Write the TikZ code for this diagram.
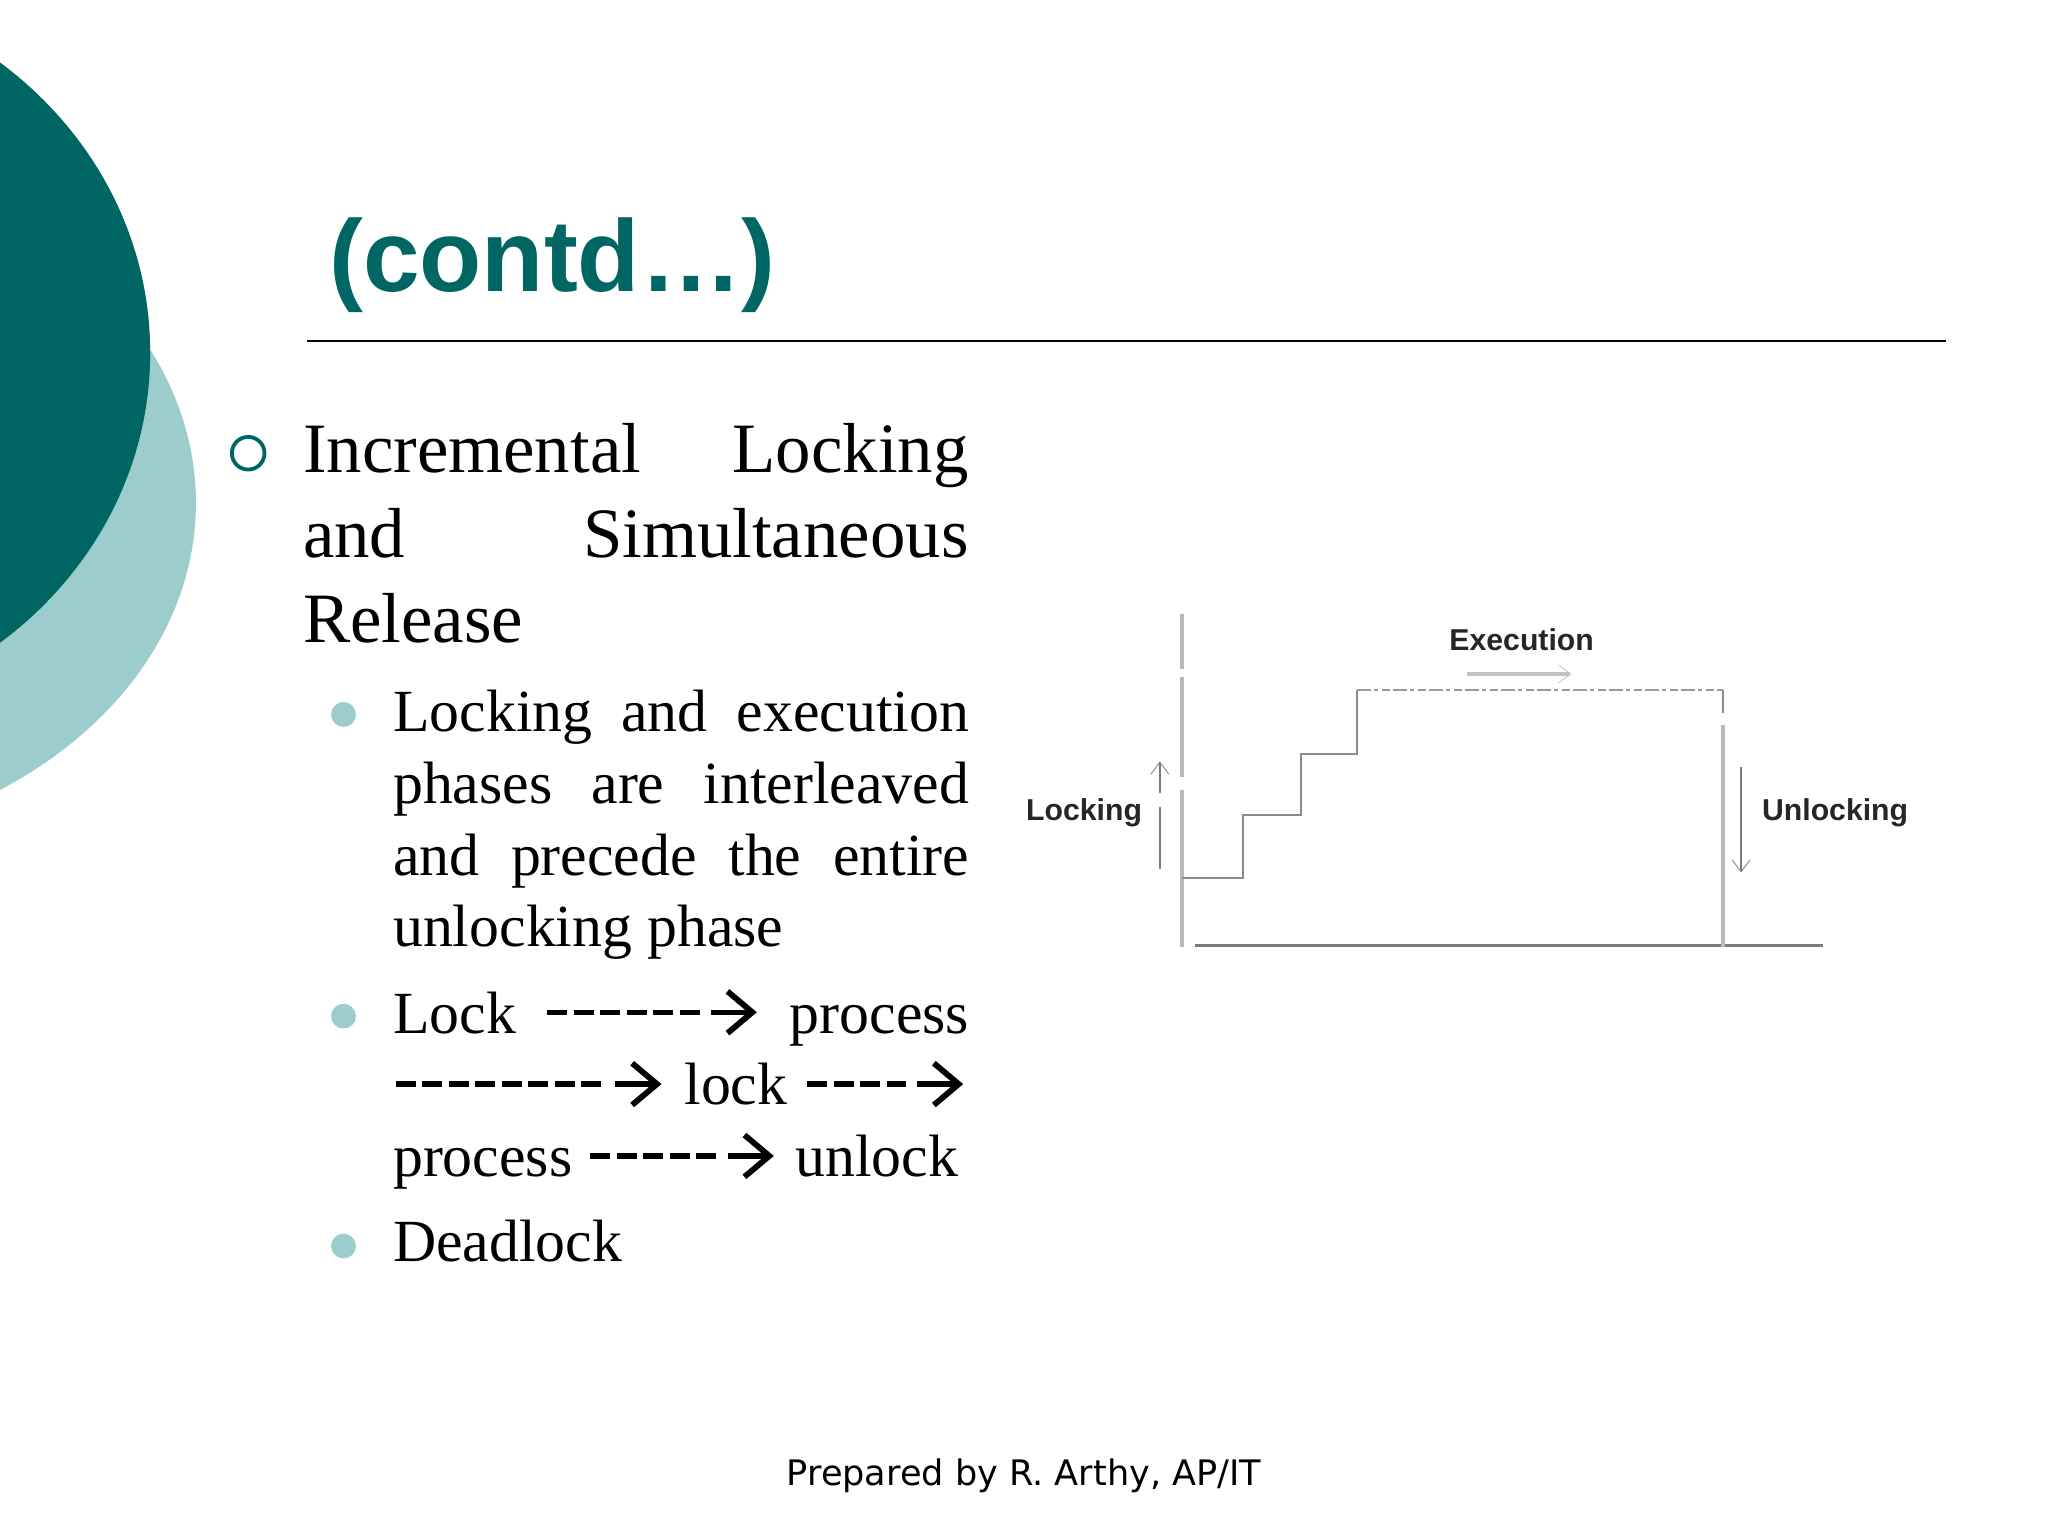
\documentclass[tikz,border=0pt]{standalone}
\usepackage{fontspec}
\setmainfont{Liberation Serif}
\newfontfamily\arialf{Liberation Sans}
\newfontfamily\dejavuf{DejaVu Sans}
\usetikzlibrary{arrows.meta}
\definecolor{tealdark}{HTML}{006664}
\definecolor{teallight}{HTML}{9CCCCC}
\definecolor{plotgray}{HTML}{9A9A9A}
\newlength\du
\setlength\du{0.65306pt}
\newcommand{\jline}[2]{\makebox[#1\du][s]{#2}}
\tikzset{
  x=0.65306pt, y=-0.65306pt,
  txt/.style={anchor=base west, inner sep=0pt, outer sep=0pt},
  mainline/.style={txt, font=\fontsize{35.4}{36}\selectfont},
  subline/.style={txt, font=\fontsize{29.9}{30}\selectfont},
  subbullet/.style={circle, fill=teallight, minimum size=19\du, inner sep=0pt},
  plotlabel/.style={anchor=center, inner sep=0pt, font=\arialf\bfseries\fontsize{15.1}{16}\selectfont, text=black!85},
  axisline/.style={draw=plotgray!70, line width=1.7pt},
  stairline/.style={draw=plotgray!90!black, line width=1pt},
  topline/.style={draw=plotgray, line width=1pt, dash pattern=on 7pt off 1.5pt on 2pt off 2pt on 4pt off 1.5pt},
  thinarrow/.style={draw=plotgray!80!black, line width=0.8pt},
  barbtip/.style={-{Straight Barb[length=6pt,width=9pt,line width=0.4pt]}},
  dashpart/.style={line width=2.6pt, dash pattern=on 15.3\du off 5\du},
  chevron/.style={line width=2.9pt, miter limit=10},
}
\newcommand{\dashedtip}[4]{% name, x start, x tip, y
  \coordinate (#1s) at (#2,#4);
  \coordinate (#1e) at (#3-44,#4);
  \coordinate (#1m) at (#3-36,#4);
  \coordinate (#1t) at (#3-5,#4);
  \draw[dashpart] (#1s) -- (#1e);
  \draw[line width=2.6pt] (#1m) -- (#1t);
  \draw[chevron] (#3-23,#4-16) -- (#3-4,#4) -- (#3-23,#4+16);
}
\begin{document}
\begin{tikzpicture}
\useasboundingbox (0,0) rectangle (1568,1176);
\fill[white] (0,0) rectangle (1568,1176);
% background ellipses
\begin{scope}
\clip (0,0) rectangle (1568,1176);
\fill[teallight] (-190,385) ellipse [x radius=340, y radius=265];
\fill[tealdark] (-190,270) ellipse [x radius=305, y radius=284];
\end{scope}
% title
\node[txt, font=\arialf\bfseries\fontsize{50.9}{52}\selectfont, text=tealdark] (title) at (252,223) {(contd…)};
\coordinate (ruleL) at (235,261);
\coordinate (ruleR) at (1490,261);
\draw[line width=1.35pt] (ruleL) -- (ruleR);
% first level
\node[circle, draw=tealdark, line width=1.9pt, minimum size=25\du, inner sep=0pt] (b0) at (190,347) {};
\node[mainline] (m1) at (232,362) {\jline{509.5}{Incremental Locking}};
\node[mainline] (m2) at (232,427) {\jline{509.5}{and Simultaneous}};
\node[mainline] (m3) at (232,492) {Release};
% second level
\node[subbullet] (b1) at (263,547) {};
\node[subline] (s1) at (301,560) {\jline{441}{Locking and execution}};
\node[subline] (s2) at (301,615) {\jline{441}{phases are interleaved}};
\node[subline] (s3) at (301,670) {\jline{441}{and precede the entire}};
\node[subline] (s4) at (301,725) {unlocking phase};
\node[subbullet] (b2) at (263,778) {};
\node[subline] (l1a) at (301,791) {Lock};
\node[subline, anchor=base east] (l1b) at (742,791) {process};
\dashedtip{a}{419}{580}{775}
\dashedtip{b}{303}{507}{830}
\node[subline] (l2a) at (524,846) {lock};
\dashedtip{c}{618}{738}{830}
\node[subline] (l3a) at (301,901) {process};
\dashedtip{d}{452}{593}{885}
\node[subline] (l3b) at (609,901) {unlock};
\node[subbullet] (b3) at (263,954) {};
\node[subline] (s9) at (301,966) {Deadlock};
% plot
\coordinate (axT) at (905,470);
\coordinate (axG1) at (905,512);
\coordinate (axG2) at (905,518);
\coordinate (axG3) at (905,595);
\coordinate (axG4) at (905,605);
\coordinate (axB) at (905,725);
\coordinate (baseL) at (915,724);
\coordinate (baseR) at (1396,724);
\draw[axisline] (axT) -- (axG1) (axG2) -- (axG3) (axG4) -- (axB);
\draw[draw=plotgray!80!black, line width=1.3pt] (baseL) -- (baseR);
\coordinate (p1) at (905,672);
\coordinate (p2) at (952,672);
\coordinate (p3) at (952,624);
\coordinate (p4) at (996,624);
\coordinate (p5) at (996,577);
\coordinate (p6) at (1039,577);
\coordinate (p7) at (1039,528);
\coordinate (p8) at (1319,528);
\coordinate (p8b) at (1319,546);
\coordinate (p8c) at (1319,555);
\coordinate (p9) at (1319,725);
\draw[stairline] (p1) -- (p2) -- (p3) -- (p4) -- (p5) -- (p6) -- (p7);
\draw[topline] (p7) -- (p8);
\draw[stairline] (p8) -- (p8b);
\draw[axisline] (p8c) -- (p9);
\coordinate (la) at (888,665);
\coordinate (lg1) at (888,618);
\coordinate (lg2) at (888,607);
\coordinate (lb) at (888,583);
\draw[thinarrow] (la) -- (lg1);
\draw[thinarrow, barbtip] (lg2) -- (lb);
\coordinate (ua) at (1333,587);
\coordinate (ub) at (1333,668);
\draw[thinarrow, barbtip] (ua) -- (ub);
\coordinate (ea) at (1123,516);
\coordinate (eb) at (1203,516);
\draw[draw=plotgray!60, line width=1.7pt, -{Straight Barb[length=6pt,width=9pt,line width=0.4pt]}] (ea) -- (eb);
\node[plotlabel] (exec) at (1165,490) {Execution};
\node[plotlabel] (lock) at (830,622) {Locking};
\node[plotlabel] (unlock) at (1405,622) {Unlocking};
% footer
\node[txt, anchor=base, font=\dejavuf\fontsize{17.55}{20}\selectfont] (foot) at (784,1137) {Prepared by R. Arthy, AP/IT};
\end{tikzpicture}
\end{document}
